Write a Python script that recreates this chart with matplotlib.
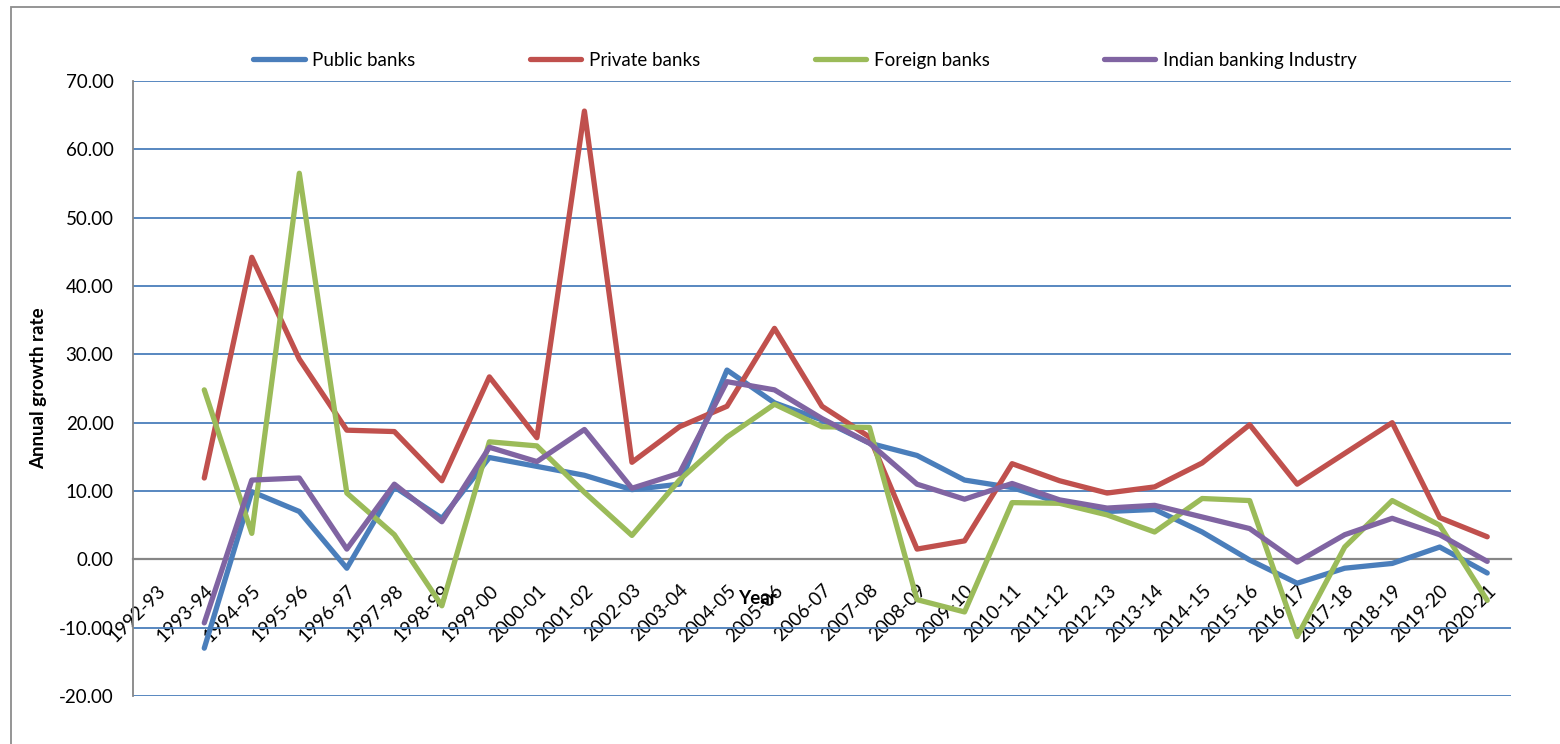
import matplotlib
matplotlib.use("Agg")
import matplotlib.pyplot as plt
from matplotlib.patches import Rectangle

plt.rcParams['font.family'] = ['Lato', 'DejaVu Sans']

# categories (1992-93 has no values)
years = ['1992-93', '1993-94', '1994-95', '1995-96', '1996-97', '1997-98',
         '1998-99', '1999-00', '2000-01', '2001-02', '2002-03', '2003-04',
         '2004-05', '2005-06', '2006-07', '2007-08', '2008-09', '2009-10',
         '2010-11', '2011-12', '2012-13', '2013-14', '2014-15', '2015-16',
         '2016-17', '2017-18', '2018-19', '2019-20', '2020-21']

# annual growth rates, 1993-94 to 2020-21
public = [-13.0, 9.9, 7.0, -1.3, 10.6, 6.0, 14.9, 13.6, 12.3, 10.2, 11.0,
          27.7, 22.9, 20.4, 17.0, 15.2, 11.6, 10.5, 8.3, 7.0, 7.3, 4.0,
          -0.1, -3.5, -1.3, -0.6, 1.8, -2.0]
private = [11.9, 44.2, 29.3, 18.9, 18.7, 11.5, 26.7, 17.8, 65.6, 14.2, 19.4,
           22.4, 33.8, 22.4, 17.9, 1.5, 2.7, 14.0, 11.5, 9.7, 10.6, 14.1,
           19.7, 11.0, 15.5, 20.0, 6.1, 3.3]
foreign = [24.8, 3.8, 56.5, 9.7, 3.6, -6.8, 17.2, 16.6, 9.8, 3.5, 11.6,
           17.9, 22.7, 19.4, 19.3, -5.9, -7.7, 8.3, 8.2, 6.5, 4.0, 8.9,
           8.6, -11.3, 1.8, 8.6, 5.0, -6.0]
industry = [-9.3, 11.6, 11.9, 1.5, 11.0, 5.5, 16.4, 14.3, 19.0, 10.4, 12.6,
            26.0, 24.8, 20.6, 17.0, 11.0, 8.8, 11.1, 8.7, 7.5, 7.9, 6.2,
            4.5, -0.4, 3.6, 6.0, 3.6, -0.3]

series = [('Public banks', public, '#4a7ebb'),
          ('Private banks', private, '#c0504d'),
          ('Foreign banks', foreign, '#9bbb59'),
          ('Indian banking Industry', industry, '#8064a2')]

fs = 13.5
fig = plt.figure(figsize=(15.6, 7.44), dpi=100)
ax = fig.add_axes([133 / 1560, 1 - 696 / 744, 1378 / 1560, 615 / 744])

# outer chart frame
fig.patches.append(Rectangle((11 / 1560, -0.1), 1.2, 1 - 7 / 744 + 0.1,
                             transform=fig.transFigure, fill=False,
                             edgecolor='#8c8c8c', linewidth=1.3))

# spines first: moving the bottom spine resets the ticks
for s in ['top', 'right']:
    ax.spines[s].set_visible(False)
ax.spines['left'].set_color('#868686')
ax.spines['left'].set_linewidth(1.3)
ax.spines['bottom'].set_position(('data', 0))
ax.spines['bottom'].set_color('#868686')
ax.spines['bottom'].set_linewidth(1.6)
ax.spines['bottom'].set_zorder(2.5)

x = list(range(1, len(years)))
for name, vals, col in series:
    ax.plot(x, vals, color=col, lw=3.8, label=name,
            solid_capstyle='round', solid_joinstyle='round', zorder=3)

ax.set_xlim(-0.5, len(years) - 0.5)
ax.set_ylim(-20, 70)
ax.set_yticks(range(-20, 71, 10))
ax.set_yticklabels(['%.2f' % v for v in range(-20, 71, 10)], fontsize=fs)
ax.yaxis.grid(True, color='#4a7ebb', lw=1.3)
ax.set_axisbelow(True)

ax.set_xticks(range(len(years)))
ax.set_xticklabels(years, rotation=45, ha='right', va='top',
                   rotation_mode='anchor', fontsize=fs)
ax.tick_params(axis='x', length=0, pad=16)
ax.tick_params(axis='y', length=0, pad=14)

ax.set_xlabel('Year', fontsize=fs, fontweight='bold', va='top')
ax.xaxis.set_label_coords(0.453, 0.172)
ax.set_ylabel('Annual growth rate', fontsize=fs, fontweight='bold')
ax.yaxis.set_label_coords(-0.062, 0.5)

fig.legend(loc='center', bbox_to_anchor=(0.516, 0.919), ncol=4,
           frameon=False, fontsize=fs, handlelength=2.75,
           handletextpad=0.4, columnspacing=6.1)

fig.savefig('out.png', dpi=100)
